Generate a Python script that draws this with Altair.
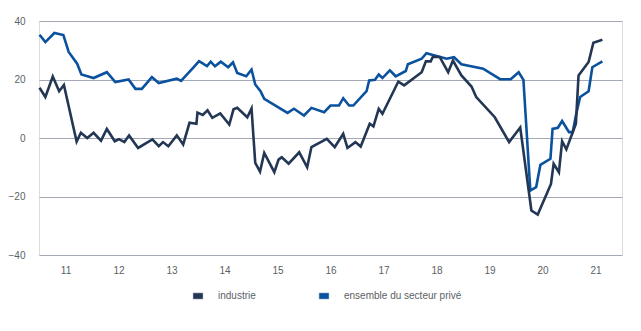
import altair as alt
import pandas as pd

# industrie (time in decimal years, balance in %)
ind_t = [2011.01, 2011.12, 2011.26, 2011.38, 2011.47, 2011.71, 2011.79, 2011.91, 2012.03, 2012.17,
         2012.28, 2012.43, 2012.51, 2012.61, 2012.70, 2012.87, 2013.14, 2013.26, 2013.34, 2013.44,
         2013.60, 2013.72, 2013.84, 2013.97, 2013.99, 2014.09, 2014.18, 2014.27, 2014.42, 2014.59,
         2014.67, 2014.74, 2014.93, 2015.01, 2015.08, 2015.17, 2015.25, 2015.44, 2015.52, 2015.58,
         2015.71, 2015.91, 2016.06, 2016.14, 2016.43, 2016.58, 2016.74, 2016.82, 2016.97, 2017.07,
         2017.24, 2017.31, 2017.41, 2017.48, 2017.78, 2017.89, 2018.22, 2018.30, 2018.39, 2018.43,
         2018.56, 2018.72, 2018.81, 2018.97, 2019.16, 2019.25, 2019.60, 2019.87, 2020.08, 2020.29,
         2020.41, 2020.66, 2020.71, 2020.81, 2020.87, 2020.95, 2021.13, 2021.18, 2021.37, 2021.46,
         2021.63]
ind_v = [17.2, 14.0, 21.0, 16.0, 18.1, -1.2, 1.8, 0.0, 1.8, -0.9,
         3.1, -1.1, -0.4, -1.4, 0.9, -3.4, -0.5, -2.8, -1.4, -2.8,
         0.9, -2.2, 5.2, 4.9, 8.7, 7.9, 9.5, 6.9, 8.4, 4.6,
         9.8, 10.3, 7.1, 10.1, -8.5, -11.5, -5.1, -11.7, -7.4, -6.6,
         -8.8, -4.9, -10.0, -3.1, -0.3, -3.1, 1.4, -3.4, -1.4, -2.9,
         4.9, 4.0, 10.0, 8.3, 19.3, 18.0, 22.5, 26.2, 26.2, 27.7,
         27.7, 22.5, 26.5, 21.4, 17.6, 14.0, 7.1, -1.4, 3.6, -24.8,
         -26.2, -15.7, -8.8, -11.7, -1.1, -3.9, 4.9, 21.4, 26.0, 32.6,
         33.6]

# ensemble du secteur privé
ens_t = [2011.01, 2011.12, 2011.29, 2011.46, 2011.56, 2011.72, 2011.80, 2012.03, 2012.28, 2012.44,
         2012.69, 2012.82, 2012.94, 2013.13, 2013.26, 2013.60, 2013.68, 2013.92, 2014.02, 2014.17,
         2014.24, 2014.32, 2014.43, 2014.57, 2014.66, 2014.74, 2014.91, 2015.01, 2015.08, 2015.18,
         2015.25, 2015.69, 2015.81, 2016.00, 2016.14, 2016.38, 2016.50, 2016.66, 2016.74, 2016.85,
         2016.93, 2017.18, 2017.23, 2017.34, 2017.41, 2017.48, 2017.62, 2017.73, 2017.92, 2017.96,
         2018.22, 2018.31, 2018.45, 2018.69, 2018.83, 2018.97, 2019.38, 2019.70, 2019.90, 2020.05,
         2020.14, 2020.27, 2020.38, 2020.46, 2020.65, 2020.69, 2020.79, 2020.87, 2021.00, 2021.07,
         2021.13, 2021.21, 2021.37, 2021.44, 2021.63]
ens_v = [35.3, 32.8, 35.9, 35.2, 29.4, 25.4, 21.7, 20.5, 22.5, 19.1,
         20.0, 16.8, 16.8, 20.8, 18.8, 20.3, 19.5, 24.2, 26.3, 24.6,
         26.1, 24.5, 26.1, 24.2, 25.9, 22.2, 21.1, 23.4, 18.3, 16.0,
         13.4, 8.6, 10.0, 7.7, 10.3, 8.8, 11.1, 11.1, 13.6, 11.1,
         11.1, 16.0, 19.7, 19.9, 21.7, 20.5, 23.1, 21.1, 22.9, 25.2,
         27.1, 29.0, 28.3, 27.1, 27.6, 25.2, 23.7, 20.1, 20.1, 22.5,
         19.9, -18.0, -16.8, -9.2, -7.1, 3.1, 3.5, 5.8, 2.0, 2.0,
         7.7, 14.0, 16.0, 24.2, 26.2]

series_names = ["industrie", "ensemble du secteur privé"]
series_colors = ["#233654", "#0a519e"]
year_ticks = [2011.5 + i for i in range(11)]
y_ticks = [-40, -20, 0, 20, 40]

df = pd.concat([
    pd.DataFrame({"t": ind_t, "v": ind_v, "serie": series_names[0]}),
    pd.DataFrame({"t": ens_t, "v": ens_v, "serie": series_names[1]}),
], ignore_index=True)

font = "Liberation Sans"
gray = "#5b5f66"

x = alt.X("t:Q", scale=alt.Scale(domain=[2011, 2022], nice=False, zero=False),
          axis=alt.Axis(values=year_ticks, labelExpr="format(floor(datum.value) % 100, '02d')",
                        grid=False, domain=False, ticks=False, labelPadding=10,
                        labelFontSize=10, labelColor=gray, labelFont=font, title=None))
y = alt.Y("v:Q", scale=alt.Scale(domain=[-40, 40], nice=False),
          axis=alt.Axis(values=y_ticks, grid=True, gridColor="#a3a9b6", gridWidth=1,
                        domain=False, ticks=False, labelPadding=14, labelFontSize=10,
                        labelColor=gray, labelFont=font, title=None))
color = alt.Color("serie:N", scale=alt.Scale(domain=series_names, range=series_colors),
                  legend=alt.Legend(title=None, orient="none", direction="horizontal",
                                    legendX=154, legendY=270, columnPadding=62,
                                    symbolType="M-1,-0.6H1V0.6H-1Z", symbolSize=85,
                                    symbolStrokeWidth=0.6, symbolOpacity=1,
                                    labelFontSize=10, labelColor=gray, labelFont=font,
                                    labelOffset=15))

base = alt.Chart(df)
# empty filled layer so that the shared legend shows filled swatches
swatch = base.transform_filter(alt.datum.v > 1000).mark_square(filled=True, opacity=1).encode(x=x, y=y, color=color)
ens = base.transform_filter(alt.datum.serie == series_names[1]).mark_line(strokeWidth=2.6).encode(x=x, y=y, color=color)
ind = base.transform_filter(alt.datum.serie == series_names[0]).mark_line(strokeWidth=2.6).encode(x=x, y=y, color=color)

chart = alt.layer(swatch, ens, ind).properties(
    width=583, height=234,
    autosize=alt.AutoSizeParams(type="none"),
    padding={"left": 39, "top": 21, "right": 19, "bottom": 76},
).configure_view(stroke=None).configure(background="white")

chart.save("out.html", embed_options={"renderer": "svg", "actions": False})
